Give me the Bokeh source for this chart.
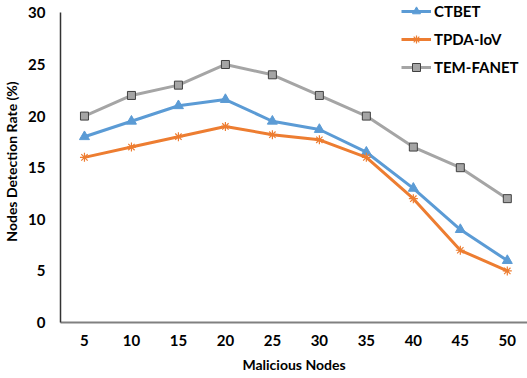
from bokeh.plotting import figure
from bokeh.models import Range1d, FixedTicker, Legend, LegendItem
from bokeh.embed import file_html
from bokeh.resources import INLINE

malicious = [5, 10, 15, 20, 25, 30, 35, 40, 45, 50]
ctbet = [18, 19.5, 21, 21.6, 19.5, 18.7, 16.5, 13, 9, 6]
tpda = [16, 17, 18, 19, 18.2, 17.7, 16, 12, 7, 5]
temfanet = [20, 22, 23, 25, 24, 22, 20, 17, 15, 12]
y_ticks = [0, 5, 10, 15, 20, 25, 30]

FONT = "Lato"

p = figure(width=527, height=378, output_backend="svg", toolbar_location=None,
           x_range=Range1d(2.45, 52.15), y_range=Range1d(0, 31.2),
           min_border_left=60, min_border_right=0, min_border_top=0, min_border_bottom=56)
p.outline_line_color = None
p.grid.visible = False
p.background_fill_color = "white"
p.border_fill_color = "white"

blue = "#5B9BD5"
orange = "#ED7D31"
gray = "#A5A5A5"

r1 = p.line(malicious, ctbet, line_color=blue, line_width=3)
m1 = p.scatter(malicious, ctbet, marker="triangle", size=10, fill_color=blue, line_color=blue)
r2 = p.line(malicious, tpda, line_color=orange, line_width=3)
m2 = p.scatter(malicious, tpda, marker="asterisk", size=9, line_color=orange, line_width=1.2)
r3 = p.line(malicious, temfanet, line_color=gray, line_width=3)
m3 = p.scatter(malicious, temfanet, marker="square", size=8, fill_color=gray, line_color="#404040", line_width=1)

p.xaxis.ticker = FixedTicker(ticks=malicious)
p.yaxis.ticker = FixedTicker(ticks=y_ticks)
p.yaxis.bounds = (0, 30)
for ax in (p.xaxis[0], p.yaxis[0]):
    ax.major_tick_line_color = None
    ax.minor_tick_line_color = None
    ax.major_tick_out = 0
    ax.major_tick_in = 0
    ax.minor_tick_out = 0
    ax.minor_tick_in = 0
    ax.major_label_text_font = FONT
    ax.major_label_text_font_style = "bold"
    ax.major_label_text_font_size = "15px"
    ax.major_label_text_color = "black"
    ax.axis_label_text_font = FONT
    ax.axis_label_text_font_style = "bold"
    ax.axis_label_text_font_size = "14px"
    ax.axis_label_text_color = "black"

p.xaxis.axis_label = "Malicious Nodes"
p.yaxis.axis_label = "Nodes Detection Rate (%)"
p.yaxis.axis_line_color = "#333333"
p.yaxis.axis_line_width = 1.5
p.xaxis.axis_line_color = "#808080"
p.xaxis.axis_line_width = 2
p.yaxis.major_label_standoff = 15
p.xaxis.major_label_standoff = 12
p.xaxis.axis_label_standoff = 7
p.yaxis.axis_label_standoff = 5

legend = Legend(items=[
    LegendItem(label="CTBET", renderers=[r1, m1]),
    LegendItem(label="TPDA-IoV", renderers=[r2, m2]),
    LegendItem(label="TEM-FANET", renderers=[r3, m3]),
], location=(341, 245))
legend.border_line_color = None
legend.background_fill_alpha = 0
legend.padding = 0
legend.margin = 0
legend.spacing = 8
legend.glyph_width = 30
legend.glyph_height = 20
legend.label_height = 20
legend.label_standoff = 3
legend.label_text_font = FONT
legend.label_text_font_style = "bold"
legend.label_text_font_size = "15px"
legend.label_text_color = "black"
p.add_layout(legend)

open("out.html", "w").write(file_html(p, INLINE))
